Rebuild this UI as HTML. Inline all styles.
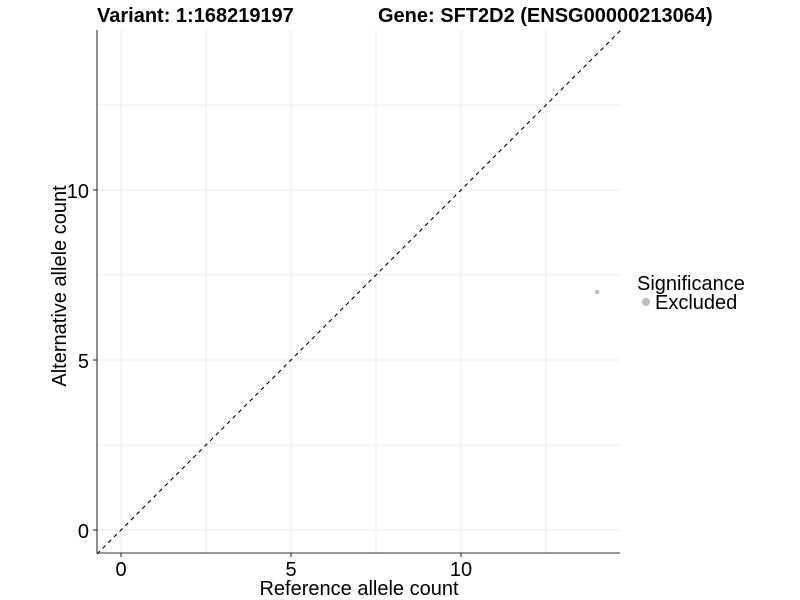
<!DOCTYPE html>
<html><head><meta charset="utf-8"><style>body{margin:0;background:#fff}svg{display:block}</style></head>
<body>
<svg width="800" height="600" xmlns="http://www.w3.org/2000/svg" font-family="Liberation Sans, Arial, sans-serif">
<rect width="800" height="600" fill="#fff"/>
<g stroke="#ebebeb" stroke-width="1">
<line x1="121" y1="30" x2="121" y2="553"/><line x1="206" y1="30" x2="206" y2="553"/>
<line x1="291" y1="30" x2="291" y2="553"/><line x1="376" y1="30" x2="376" y2="553"/>
<line x1="461" y1="30" x2="461" y2="553"/><line x1="546" y1="30" x2="546" y2="553"/>
<line x1="97" y1="530" x2="620" y2="530"/><line x1="97" y1="445" x2="620" y2="445"/>
<line x1="97" y1="360" x2="620" y2="360"/><line x1="97" y1="275" x2="620" y2="275"/>
<line x1="97" y1="190" x2="620" y2="190"/><line x1="97" y1="105" x2="620" y2="105"/>
</g>
<line x1="97" y1="554" x2="621" y2="30" stroke="#000" stroke-width="1.1" stroke-dasharray="4,4"/>
<circle cx="597" cy="292" r="2.2" fill="#bdbdbd"/>
<g stroke="#333" stroke-width="1.1">
<line x1="97" y1="30" x2="97" y2="553"/><line x1="97" y1="553" x2="620" y2="553"/>
<line x1="93" y1="530" x2="97" y2="530"/><line x1="93" y1="360" x2="97" y2="360"/><line x1="93" y1="190" x2="97" y2="190"/>
<line x1="121" y1="553" x2="121" y2="557"/><line x1="291" y1="553" x2="291" y2="557"/><line x1="461" y1="553" x2="461" y2="557"/>
</g>
<g font-size="20" fill="#000">
<text x="89" y="538" text-anchor="end">0</text>
<text x="89" y="368" text-anchor="end">5</text>
<text x="89" y="198" text-anchor="end">10</text>
<text x="121" y="576" text-anchor="middle">0</text>
<text x="291" y="576" text-anchor="middle">5</text>
<text x="461" y="576" text-anchor="middle">10</text>
<text x="359" y="595" text-anchor="middle">Reference allele count</text>
<text transform="translate(66,286) rotate(-90)" text-anchor="middle">Alternative allele count</text>
<text x="637" y="290">Significance</text>
<text x="655" y="309">Excluded</text>
</g>
<circle cx="646" cy="302" r="4" fill="#bdbdbd"/>
<g font-size="20" font-weight="bold" fill="#000">
<text x="97" y="22">Variant: 1:168219197</text>
<text x="378" y="22">Gene: SFT2D2 (ENSG00000213064)</text>
</g>
</svg>
</body></html>
